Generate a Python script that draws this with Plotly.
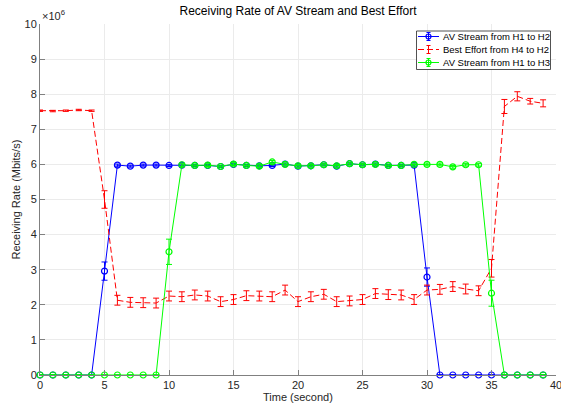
import plotly.graph_objects as go

time_s = list(range(40))

av_h1_h2 = [0, 0, 0, 0, 0, 2.96, 5.98, 5.95, 5.98, 5.98,
            5.97, 5.98, 5.97, 5.97, 5.94, 6.00, 5.97, 5.96, 5.97, 6.01,
            5.95, 5.96, 5.99, 5.95, 6.02, 5.99, 6.01, 5.97, 5.97, 5.98,
            2.79, 0, 0, 0, 0, 0, 0, 0, 0, 0]
av_h1_h2_err = [0.01] * 5 + [0.26] + [0.03] * 24 + [0.26] + [0.01] * 9

best_effort = [7.53, 7.52, 7.53, 7.55, 7.53, 5.0, 2.13, 2.07, 2.06, 2.05,
               2.25, 2.23, 2.28, 2.25, 2.09, 2.15, 2.26, 2.25, 2.23, 2.42,
               2.09, 2.23, 2.30, 2.09, 2.11, 2.15, 2.32, 2.29, 2.28, 2.15,
               2.42, 2.44, 2.52, 2.45, 2.40, 3.04, 7.65, 7.94, 7.80, 7.74]
best_effort_err = [0.02] * 5 + [0.25] + [0.14] * 29 + [0.25, 0.2, 0.13, 0.08, 0.1]

av_h1_h3 = [0, 0, 0, 0, 0, 0, 0, 0, 0, 0,
            3.51, 5.99, 5.97, 5.98, 5.94, 6.01, 5.97, 5.95, 6.07, 6.00,
            5.96, 5.96, 5.99, 5.96, 6.02, 5.99, 6.00, 5.97, 5.97, 6.00,
            6.00, 6.00, 5.93, 5.99, 5.99, 2.33, 0, 0, 0, 0]
av_h1_h3_err = [0.01] * 10 + [0.36] + [0.04] * 24 + [0.37] + [0.01] * 4

series_names = ["AV Stream from H1 to H2", "Best Effort from H4 to H2", "AV Stream from H1 to H3"]

y_ticks = list(range(11))
x_ticks = list(range(0, 41, 5))

FONT = "Liberation Sans, Arial, sans-serif"
TXT = "#262626"
W, H = 561, 405
ML, MR, MT, MB = 40, 5, 24, 30
PW, PH = W - ML - MR, H - MT - MB
DASH = "6px,3px"


def px(xp):
    return (xp - ML) / PW


def py(yp):
    return (H - MB - yp) / PH


styles = [
    dict(color="#0000ff", dash="solid", marker=True),
    dict(color="#ff0000", dash=DASH, marker=False),
    dict(color="#00ff00", dash="solid", marker=True),
]
series = [(av_h1_h2, av_h1_h2_err), (best_effort, best_effort_err), (av_h1_h3, av_h1_h3_err)]

fig = go.Figure()
for name, (vals, errs), st in zip(series_names, series, styles):
    fig.add_trace(go.Scatter(
        x=time_s, y=vals, name=name,
        mode="lines+markers" if st["marker"] else "lines", cliponaxis=False,
        line=dict(color=st["color"], width=1, dash=st["dash"]),
        marker=dict(symbol="circle-open", size=6, color=st["color"], line=dict(width=1.2)),
        error_y=dict(type="data", array=errs, color=st["color"], thickness=1, width=3),
        showlegend=False,
    ))

fig.update_layout(
    width=W, height=H,
    margin=dict(l=ML, r=MR, t=MT, b=MB, autoexpand=False),
    paper_bgcolor="white", plot_bgcolor="white",
    font=dict(family=FONT, size=11, color=TXT),
    title=dict(text="Receiving Rate of AV Stream and Best Effort",
               x=0.5, xanchor="center", xref="paper", y=1 - 11 / H, yref="container",
               yanchor="middle",
               font=dict(family=FONT, size=12, color="#000000")),
    showlegend=False,
)
fig.update_xaxes(
    range=[0, 40], tickvals=x_ticks, ticktext=[str(v) for v in x_ticks],
    showgrid=True, gridcolor="#ebebeb", gridwidth=1,
    showline=True, linecolor="#808080", linewidth=1,
    ticks="inside", ticklen=5, tickcolor="#808080",
    zeroline=False, mirror=False, automargin=False,
    ticklabeloverflow="allow",
)
fig.update_yaxes(
    range=[0, 10], tickvals=y_ticks, ticktext=[str(v) for v in y_ticks],
    showgrid=True, gridcolor="#ebebeb", gridwidth=1,
    showline=True, linecolor="#808080", linewidth=1,
    ticks="inside", ticklen=5, tickcolor="#808080",
    zeroline=False, mirror=False, automargin=False,
    ticklabeloverflow="allow",
)
fig.add_annotation(
    text="Time (second)", x=0.5, y=py(397), xref="paper", yref="paper",
    xanchor="center", yanchor="middle", showarrow=False,
    font=dict(family=FONT, size=11, color=TXT),
)
fig.add_annotation(
    text="Receiving Rate (Mbits/s)", x=px(15), y=0.5, xref="paper", yref="paper",
    xanchor="center", yanchor="middle", showarrow=False, textangle=-90,
    font=dict(family=FONT, size=11, color=TXT),
)
fig.add_annotation(
    text="×10<sup>6</sup>", x=0, y=1, xref="paper", yref="paper",
    xanchor="left", yanchor="bottom", showarrow=False, yshift=0,
    font=dict(family=FONT, size=11, color=TXT),
)

# compact MATLAB-style legend box
fig.add_shape(type="rect", xref="paper", yref="paper",
              x0=px(416.5), x1=px(550.5), y0=py(31), y1=py(69.5),
              fillcolor="white", line=dict(color="#262626", width=0.8), layer="above")
entry_y = [36.5, 49.5, 62.5]
for name, st, ey in zip(series_names, styles, entry_y):
    fig.add_shape(type="line", xref="paper", yref="paper",
                  x0=px(418), x1=px(439), y0=py(ey), y1=py(ey),
                  line=dict(color=st["color"], width=1, dash=st["dash"]),
                  layer="above")
    # error-bar glyph
    fig.add_shape(type="line", xref="paper", yref="paper",
                  x0=px(428.5), x1=px(428.5), y0=py(ey - 4), y1=py(ey + 4),
                  line=dict(color=st["color"], width=1), layer="above")
    for cy in (ey - 4, ey + 4):
        fig.add_shape(type="line", xref="paper", yref="paper",
                      x0=px(426.5), x1=px(430.5), y0=py(cy), y1=py(cy),
                      line=dict(color=st["color"], width=1), layer="above")
    if st["marker"]:
        fig.add_shape(type="circle", xref="paper", yref="paper",
                      x0=px(426), x1=px(431), y0=py(ey - 2.5), y1=py(ey + 2.5),
                      line=dict(color=st["color"], width=1.2), layer="above")
    fig.add_annotation(
        text=name, x=px(440.5), y=py(ey), xref="paper", yref="paper",
        xanchor="left", yanchor="middle", showarrow=False,
        font=dict(family=FONT, size=9.5, color="#000000"),
    )

fig.write_html("out.html", config={"displayModeBar": False},
               post_script="document.body.style.margin='0';")
